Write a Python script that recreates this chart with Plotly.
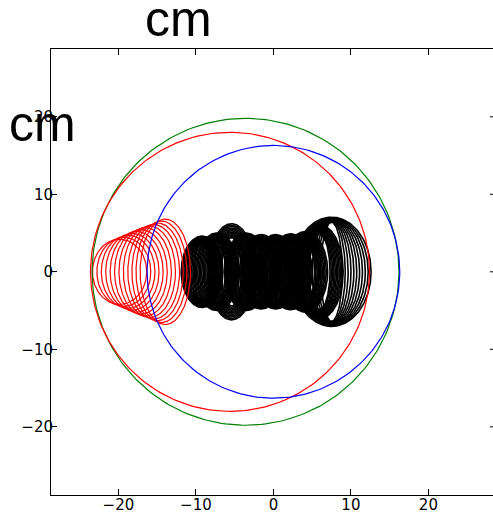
import numpy as np
import plotly.graph_objects as go

# ---- data ----
# big circles: centre x (centre y = 0), radius, colour
circle_cx = [-3.6, -5.6, 0.0]
circle_r = [19.8, 18.0, 16.3]
circle_colors = ["#008000", "#ff0000", "#0000ff"]

# red ellipse family: centre x, horizontal semi-axis, vertical semi-axis
red_cx = [-19.85, -19.3, -18.75, -18.2, -17.65, -17.1, -16.55, -16.0, -15.45, -14.95, -14.45, -13.95]
red_a = [3.5, 3.48, 3.46, 3.44, 3.42, 3.4, 3.38, 3.36, 3.34, 3.31, 3.28, 3.25]
red_b = [4.2, 4.45, 4.7, 4.95, 5.2, 5.45, 5.7, 5.9, 6.1, 6.3, 6.55, 6.8]

# black rings: centre x, smallest / largest horizontal semi-axis, smallest / largest vertical semi-axis
ring_cx = [-9.2, -7.3, -5.4, -3.5, -1.6, 0.3, 2.2, 4.1, 5.9, 7.5]
ring_amin = [1.0, 1.1, 1.3, 1.1, 1.1, 1.1, 1.1, 1.2, 1.4, 1.4]
ring_amax = [2.7, 2.8, 3.0, 2.8, 2.8, 2.8, 2.8, 2.9, 3.1, 5.1]
ring_bmin = [3.6, 3.9, 4.4, 3.9, 3.8, 3.8, 3.9, 4.1, 4.9, 6.4]
ring_bmax = [4.6, 5.0, 6.2, 5.0, 4.8, 4.8, 4.9, 5.2, 6.1, 7.05]
lines_per_ring = 11

tick_vals = [-20, -10, 0, 10, 20]
tick_text = ["\u221220", "\u221210", "0", "10", "20"]
axis_label = "cm"

theta = np.linspace(0, 2 * np.pi, 241)


def ellipse_xy(cx, a, b):
    return list(cx + a * np.cos(theta)) + [None], list(b * np.sin(theta)) + [None]


fig = go.Figure()

# black rings
bx, by = [], []
for cx, a0, a1, b0, b1 in zip(ring_cx, ring_amin, ring_amax, ring_bmin, ring_bmax):
    for t in np.linspace(0, 1, lines_per_ring):
        xs, ys = ellipse_xy(cx, a0 + (a1 - a0) * t, b0 + (b1 - b0) * t)
        bx += xs
        by += ys
fig.add_trace(go.Scatter(x=bx, y=by, mode="lines", line=dict(color="black", width=1.6),
                         hoverinfo="skip", showlegend=False))

# red ellipses
rx, ry = [], []
for cx, a, b in zip(red_cx, red_a, red_b):
    xs, ys = ellipse_xy(cx, a, b)
    rx += xs
    ry += ys
fig.add_trace(go.Scatter(x=rx, y=ry, mode="lines", line=dict(color="#ff0000", width=1.2),
                         hoverinfo="skip", showlegend=False))

# big circles
for cx, r, col in zip(circle_cx, circle_r, circle_colors):
    xs, ys = ellipse_xy(cx, r, r)
    fig.add_trace(go.Scatter(x=xs, y=ys, mode="lines", line=dict(color=col, width=1.2),
                             hoverinfo="skip", showlegend=False))

W, H = 493, 514
ML, MR, MT, MB = 51, 0, 49, 19
pw, ph = W - ML - MR, H - MT - MB
scale = 7.75  # px per unit
x0 = -28.7
y0 = -28.8

axis_common = dict(
    tickvals=tick_vals, ticktext=tick_text, ticks="inside", ticklen=6, tickwidth=1,
    tickcolor="black", showgrid=False, zeroline=False, showline=True, linecolor="black",
    linewidth=1, tickfont=dict(family="DejaVu Sans", size=15, color="black"),
    automargin=False,
)
fig.update_xaxes(range=[x0, x0 + pw / scale], mirror="ticks", ticklabelstandoff=-4, **axis_common)
fig.update_yaxes(range=[y0, y0 + ph / scale], mirror=False, ticklabelstandoff=-6, **axis_common)

# right-side tick marks (right spine lies just beyond the window)
for v in tick_vals:
    fig.add_shape(type="line", xref="paper", yref="y", x0=(490 - ML) / pw, x1=(497 - ML) / pw,
                  y0=v, y1=v, line=dict(color="black", width=1))

fig.add_annotation(text=axis_label, xref="paper", yref="paper", x=(178 - ML) / pw,
                   y=(H - MB - 19) / ph, xanchor="center", yanchor="middle", showarrow=False,
                   font=dict(family="Liberation Sans", size=50, color="black"))
fig.add_annotation(text=axis_label, xref="paper", yref="paper", x=(42.5 - ML) / pw,
                   y=(H - MB - 124) / ph, xanchor="center", yanchor="middle", showarrow=False,
                   font=dict(family="Liberation Sans", size=50, color="black"))

fig.update_layout(width=W, height=H, margin=dict(l=ML, r=MR, t=MT, b=MB, pad=0),
                  plot_bgcolor="white", paper_bgcolor="white")
fig.write_html("out.html", config={"displayModeBar": False},
               post_script="document.body.style.margin='0';document.body.style.overflow='hidden';")
